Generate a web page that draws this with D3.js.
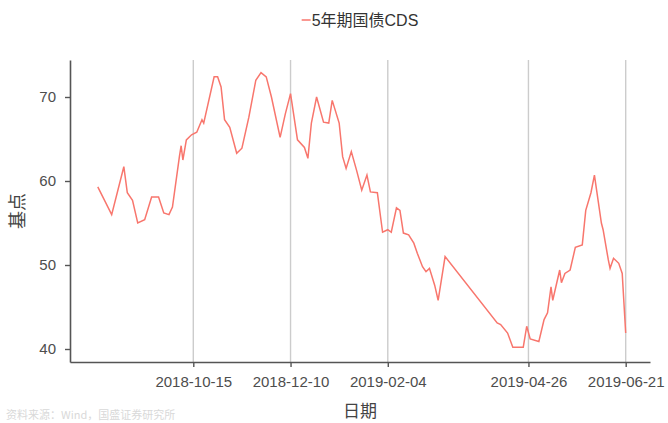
<!DOCTYPE html>
<html><head><meta charset="utf-8">
<script src="https://cdn.jsdelivr.net/npm/d3@7/dist/d3.min.js"></script>
<style>body{margin:0;background:#fff;}svg{display:block;}</style>
</head><body>
<svg id="c" width="668" height="423"></svg>
<script>
const dates = ["2018-08-21","2018-08-29","2018-09-05","2018-09-07","2018-09-10","2018-09-13","2018-09-17","2018-09-21","2018-09-25","2018-09-28","2018-10-01","2018-10-03","2018-10-07","2018-10-08","2018-10-09","2018-10-11","2018-10-14","2018-10-17","2018-10-20","2018-10-21","2018-10-27","2018-10-29","2018-10-31","2018-11-02","2018-11-05","2018-11-09","2018-11-12","2018-11-16","2018-11-20","2018-11-23","2018-11-26","2018-11-29","2018-12-04","2018-12-07","2018-12-10","2018-12-14","2018-12-18","2018-12-20","2018-12-22","2018-12-25","2018-12-29","2019-01-01","2019-01-03","2019-01-07","2019-01-09","2019-01-11","2019-01-14","2019-01-17","2019-01-20","2019-01-23","2019-01-25","2019-01-29","2019-02-01","2019-02-04","2019-02-06","2019-02-09","2019-02-11","2019-02-13","2019-02-16","2019-02-19","2019-02-21","2019-02-24","2019-02-26","2019-02-28","2019-03-03","2019-03-05","2019-03-09","2019-04-08","2019-04-10","2019-04-14","2019-04-17","2019-04-23","2019-04-25","2019-04-27","2019-05-02","2019-05-05","2019-05-07","2019-05-09","2019-05-10","2019-05-14","2019-05-15","2019-05-17","2019-05-20","2019-05-23","2019-05-27","2019-05-29","2019-06-01","2019-06-03","2019-06-07","2019-06-08","2019-06-11","2019-06-12","2019-06-14","2019-06-17","2019-06-19","2019-06-21"];
const cds = [59.3,56.0,61.7,58.6,57.7,55.0,55.4,58.1,58.1,56.2,56.0,56.9,62.9,64.2,62.5,64.9,65.5,65.8,67.3,66.9,72.4,72.4,71.2,67.3,66.4,63.3,63.9,67.6,72.0,72.9,72.4,70.0,65.2,68.0,70.4,64.9,64.0,62.7,66.9,70.0,67.0,66.9,69.6,66.9,62.9,61.5,63.5,61.3,58.9,60.7,58.7,58.6,53.9,54.2,53.9,56.8,56.5,53.8,53.6,52.6,51.4,49.8,49.2,49.6,47.6,45.8,51.0,43.1,42.9,41.9,40.2,40.2,42.7,41.2,40.9,43.5,44.3,47.4,45.8,49.4,47.9,49.0,49.4,52.1,52.4,56.5,58.6,60.7,55.0,54.2,50.6,49.6,50.8,50.2,49.0,41.9];
const xTicks = ["2018-10-15","2018-12-10","2019-02-04","2019-04-26","2019-06-21"];
const yTicks = [40,50,60,70];
const seriesName = "5年期国债CDS";
const xLabel = "日期", yLabel = "基点";
const sourceText = "资料来源：Wind，国盛证券研究所";

const parse = d3.timeParse("%Y-%m-%d");
const data = dates.map((d,i)=>({date:parse(d), v:cds[i]}));
const svg = d3.select("#c");
const L=70, R=650, T=60, B=362;
const t0 = parse("2018-10-15"), t1 = parse("2019-06-21");
const ppd = (624-192)/d3.timeDay.count(t0,t1);
const x = d3.scaleTime()
  .domain([d3.timeDay.offset(t0, -(192-L)/ppd), d3.timeDay.offset(t1, (R-624)/ppd)])
  .range([L,R]);
const y = d3.scaleLinear().domain([40-(B-349)/8.4, 70+(97-T)/8.4]).range([B,T]);
const font = "'Liberation Sans','Noto Sans CJK SC',sans-serif";
const cjk = "'Noto Sans CJK SC',sans-serif";

// vertical grid lines
svg.append("g").selectAll("line").data(xTicks).join("line")
  .attr("x1",d=>x(parse(d))).attr("x2",d=>x(parse(d)))
  .attr("y1",T).attr("y2",B).attr("stroke","#cccccc").attr("stroke-width",1.4);

// line
svg.append("path").datum(data)
  .attr("fill","none").attr("stroke","#F8766D").attr("stroke-width",1.5)
  .attr("d", d3.line().x(d=>x(d.date)).y(d=>y(d.v)));

// axes
const xa = svg.append("g").attr("transform",`translate(0,${B})`)
  .call(d3.axisBottom(x).tickValues(xTicks.map(parse)).tickFormat(d3.timeFormat("%Y-%m-%d")).tickSize(5).tickPadding(9).tickSizeOuter(0));
const ya = svg.append("g").attr("transform",`translate(${L},0)`)
  .call(d3.axisLeft(y).tickValues(yTicks).tickSize(5).tickPadding(9).tickSizeOuter(0));
[xa,ya].forEach(g=>{
  g.select(".domain").attr("stroke","#555").attr("stroke-width",1.6);
  g.selectAll(".tick line").attr("stroke","#555").attr("stroke-width",1.4);
  g.selectAll(".tick text").attr("fill","#4d4d4d").style("font-family",font).style("font-size","15px");
});

// axis titles
svg.append("text").attr("x",(L+R)/2).attr("y",417).attr("text-anchor","middle")
  .attr("fill","#444").style("font-family",cjk).style("font-size","17px").text(xLabel);
svg.append("text").attr("transform",`translate(24,${(T+B)/2}) rotate(-90)`).attr("text-anchor","middle")
  .attr("fill","#444").style("font-family",cjk).style("font-size","18px").text(yLabel);

// legend
const lg = svg.append("g");
lg.append("line").attr("x1",0).attr("x2",9).attr("y1",0).attr("y2",0).attr("stroke","#F8766D").attr("stroke-width",1.5);
const lt = lg.append("text").attr("x",10).attr("y",6).attr("fill","#333")
  .style("font-family",font).style("font-size","16px").text(seriesName);
const lw = 10 + lt.node().getComputedTextLength();
lg.attr("transform",`translate(${360 - lw/2},20)`);

// source
svg.append("text").attr("x",6).attr("y",419).attr("fill","#d9d9d9")
  .style("font-family",cjk).style("font-size","11px").text(sourceText);
</script>
</body></html>
